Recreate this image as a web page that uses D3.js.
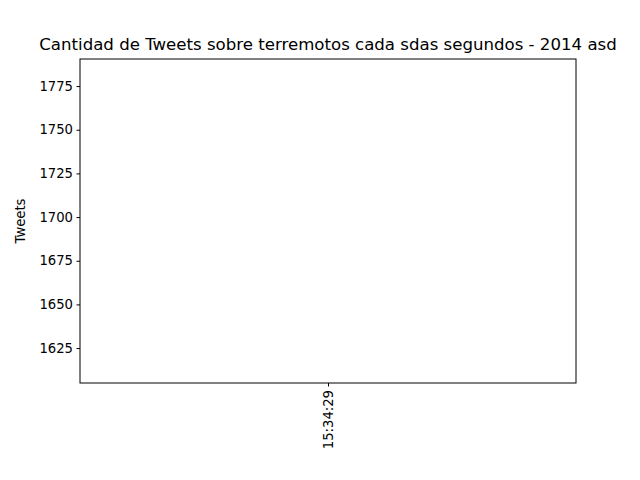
<!DOCTYPE html>
<html><head><meta charset="utf-8">
<script src="https://cdn.jsdelivr.net/npm/d3@7"></script>
<style>body{margin:0;background:#fff}text{font-family:"DejaVu Sans",sans-serif}</style>
</head><body>
<svg id="c" width="640" height="480"></svg>
<script>
const times = ["15:34:29"];
const tweets = [1698];
const yTicks = [1625, 1650, 1675, 1700, 1725, 1750, 1775];
const title = "Cantidad de Tweets sobre terremotos cada sdas segundos - 2014 asd";

const svg = d3.select("#c");
const L = 80, R = 576, T = 59, B = 383;
const x = d3.scalePoint().domain(times).range([L, R]).padding(0.5);
const y = d3.scaleLinear().domain([1605, 1790.5]).range([B, T]);

svg.append("g").attr("transform", `translate(${L},0)`)
  .call(d3.axisLeft(y).tickValues(yTicks).tickFormat(d3.format("d")).tickSize(3.5).tickPadding(3.5))
  .call(g => { g.select(".domain").remove(); g.selectAll("text").attr("font-size", 13.2).attr("fill", "#000"); });
const xa = svg.append("g").attr("transform", `translate(0,${B})`)
  .call(d3.axisBottom(x).tickSize(3.5).tickPadding(3.5));
xa.select(".domain").remove();
xa.selectAll("text").attr("font-size", 13.2).attr("fill", "#000")
  .attr("transform", "rotate(-90)").attr("text-anchor", "end")
  .attr("x", -7).attr("y", 0).attr("dy", "0.35em");

svg.append("path").datum(times.map((t, i) => [x(t), y(tweets[i])]))
  .attr("d", d3.line()).attr("fill", "none").attr("stroke", "#1f77b4").attr("stroke-width", 1.5);

svg.append("rect").attr("x", L).attr("y", T).attr("width", R - L).attr("height", B - T)
  .attr("fill", "none").attr("stroke", "#000").attr("stroke-width", 1);

svg.append("text").attr("x", (L + R) / 2).attr("y", 50).attr("text-anchor", "middle")
  .attr("font-size", 16.6).text(title);
svg.append("text").attr("transform", `translate(25,${(T + B) / 2}) rotate(-90)`)
  .attr("text-anchor", "middle").attr("font-size", 13.2).text("Tweets");
</script>
</body></html>
